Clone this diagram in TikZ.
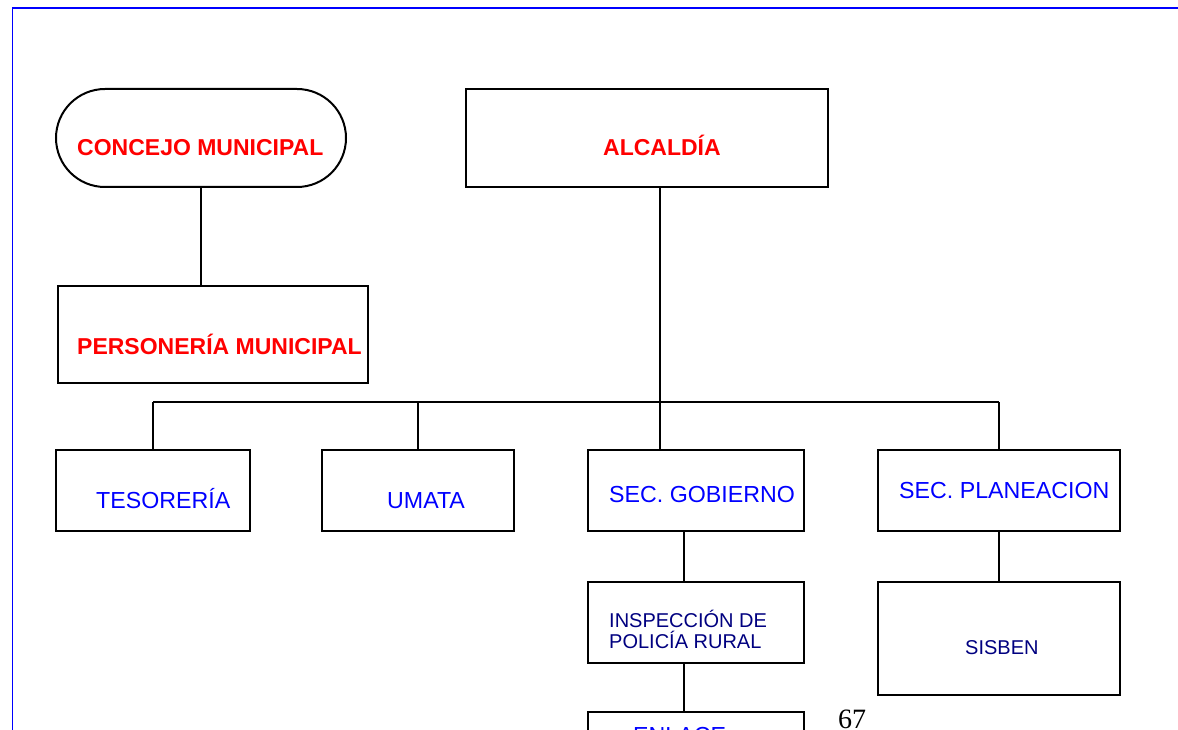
\documentclass[tikz,border=0pt]{standalone}
\usepackage{fontspec}
\setmainfont{Liberation Sans}
\newfontfamily\serifnum{Liberation Serif}
\usetikzlibrary{shapes.misc}
\definecolor{navyblue}{RGB}{0,0,128}
\definecolor{brightblue}{RGB}{0,0,255}
\definecolor{brightred}{RGB}{255,0,0}
\tikzset{
  box/.style={draw=black, line width=2pt, rectangle, inner sep=0pt, fill=white},
  pill/.style={draw=black, line width=2pt, rounded rectangle, inner sep=0pt, fill=white},
  conn/.style={draw=black, line width=1.8pt},
  redlbl/.style={anchor=base west, inner sep=0pt, text=brightred, font=\fontsize{23}{27}\selectfont\bfseries},
  bluelbl/.style={anchor=base west, inner sep=0pt, text=brightblue, font=\fontsize{23.2}{27}\selectfont},
  navylbl/.style={anchor=base west, inner sep=0pt, text=navyblue, font=\fontsize{20}{23}\selectfont},
}
\begin{document}
\begin{tikzpicture}[x=1pt,y=-1pt]
\useasboundingbox (0,0) rectangle (1178,730);
\clip (0,0) rectangle (1178,730);
\fill[white] (0,0) rectangle (1178,730);
% page frame
\draw[brightblue, line width=1.5pt] (12.5,730) -- (12.5,8) -- (1178,8);

% boxes
\node[pill, minimum width=290pt, minimum height=98pt] (conc) at (201,138) {};
\node[box, minimum width=362pt, minimum height=98pt] (alc) at (647,138) {};
\node[box, minimum width=310pt, minimum height=97pt] (pers) at (213,334.5) {};
\node[box, minimum width=194pt, minimum height=81pt] (tes) at (153,490.5) {};
\node[box, minimum width=192pt, minimum height=81pt] (uma) at (418,490.5) {};
\node[box, minimum width=216pt, minimum height=81pt] (gob) at (696,490.5) {};
\node[box, minimum width=242pt, minimum height=81pt] (plan) at (999,490.5) {};
\node[box, minimum width=216pt, minimum height=81pt] (insp) at (696,622.5) {};
\node[box, minimum width=242pt, minimum height=113pt] (sis) at (999,638.5) {};
\node[box, minimum width=216pt, minimum height=81pt] (enl) at (696,752.5) {};

% helper coordinates
\coordinate (bus) at (660,402);
\coordinate (gx) at (684,0);

% connectors
\draw[conn] (conc.south) -- (conc.south |- pers.north);
\draw[conn] (alc.south -| bus) -- (gob.north -| bus);
\draw[conn] (tes.north |- bus) -- (plan.north |- bus);
\draw[conn] (tes.north |- bus) -- (tes.north);
\draw[conn] (uma.north |- bus) -- (uma.north);
\draw[conn] (plan.north |- bus) -- (plan.north);
\draw[conn] (gob.south -| gx) -- (insp.north -| gx);
\draw[conn] (insp.south -| gx) -- (enl.north -| gx);
\draw[conn] (plan.south) -- (sis.north);

% labels
\node[redlbl] (concT) at (77,156) {CONCEJO MUNICIPAL};
\node[redlbl] (alcT) at (603,156) {ALCALDÍA};
\node[redlbl] (persT) at (77,354) {PERSONERÍA MUNICIPAL};
\node[bluelbl] (tesT) at (96,508) {TESORERÍA};
\node[bluelbl] (umaT) at (387,508) {UMATA};
\node[bluelbl] (gobT) at (609,502) {SEC. GOBIERNO};
\node[bluelbl] (planT) at (899,498) {SEC. PLANEACION};
\node[navylbl] (inspT1) at (609,627) {INSPECCIÓN DE};
\node[navylbl] (inspT2) at (609,648.5) {POLICÍA RURAL};
\node[navylbl] (sisT) at (965,654) {SISBEN};
\node[bluelbl] (enlT) at (633,743) {ENLACE};
\node[anchor=base west, inner sep=0pt, font=\serifnum\fontsize{28}{30}\selectfont] (pg) at (838,728) {67};
\end{tikzpicture}
\end{document}
